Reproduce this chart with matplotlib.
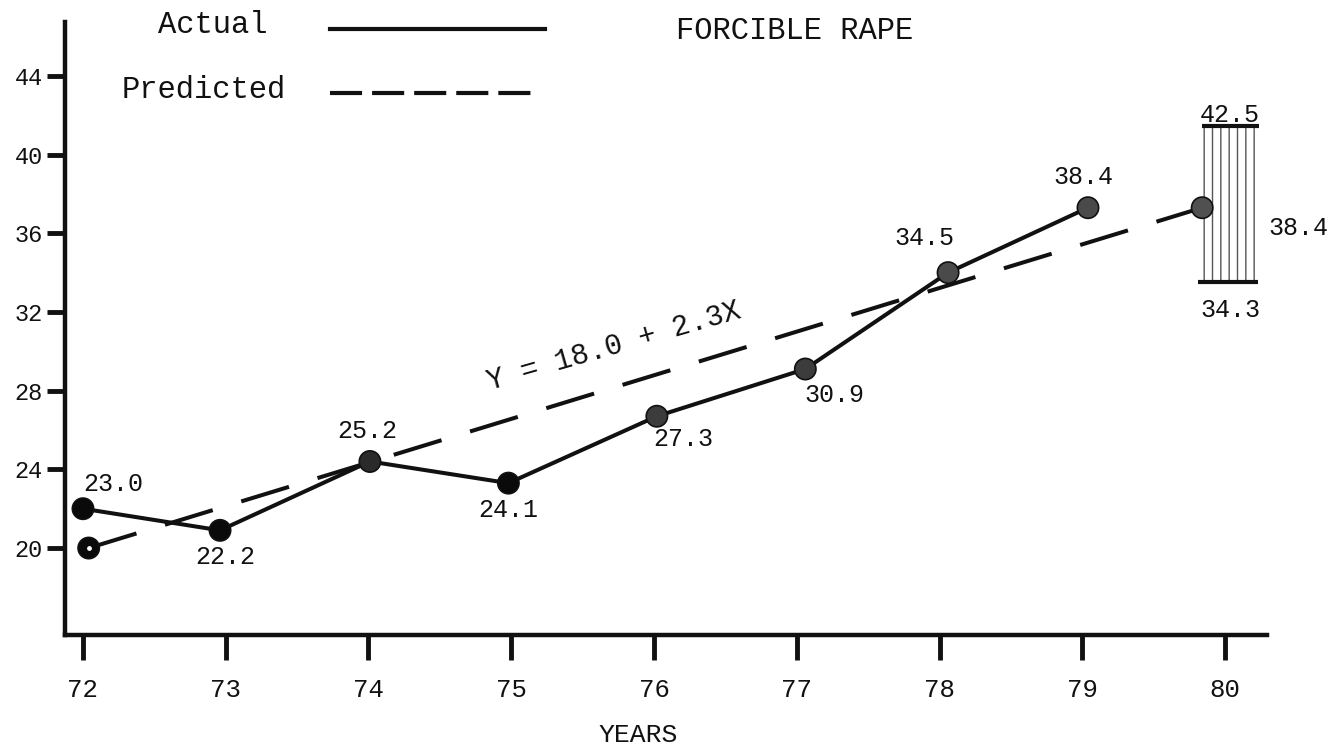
import matplotlib
matplotlib.use('Agg')
import matplotlib.pyplot as plt
from matplotlib.lines import Line2D
from matplotlib.patches import Rectangle

plt.rcParams['font.family'] = ['Liberation Mono', 'DejaVu Sans Mono']
plt.rcParams['hatch.linewidth'] = 1.0

# axis ticks
tick_years = [72, 73, 74, 75, 76, 77, 78, 79, 80]
y_ticks = [20, 24, 28, 32, 36, 40, 44]

# actual points where they sit on the chart, and the values printed next to them
actual_x = [72.0, 72.96, 74.01, 74.98, 76.02, 77.06, 78.06, 79.04]
actual_y = [22.0, 20.9, 24.4, 23.3, 26.7, 29.1, 34.0, 37.3]
actual_labels = ['23.0', '22.2', '25.2', '24.1', '27.3', '30.9', '34.5', '38.4']

# trend line Y = 18.0 + 2.3X (end points as drawn)
pred_x = [72.04, 79.84]
pred_y = [20.0, 37.3]
pred_label = '38.4'
equation = 'Y = 18.0 + 2.3X'

# 1980 prediction band
band_x = [79.84, 80.23]
band_low = 33.5
band_high = 41.45
band_low_label = '34.3'
band_high_label = '42.5'

W, H = 1343, 753
fig = plt.figure(figsize=(W / 100, H / 100), dpi=100)
ax = fig.add_axes([65 / W, 1 - 635 / H, (1267 - 65) / W, (635 - 22) / H])
ax.set_xlim(71.874, 80.294)
ax.set_ylim(15.58, 46.74)

ink = '#111111'
for s in ['top', 'right']:
    ax.spines[s].set_visible(False)
for s in ['left', 'bottom']:
    ax.spines[s].set_linewidth(3.2)
    ax.spines[s].set_color(ink)

ax.set_xticks(tick_years)
ax.set_xticklabels([str(t) for t in tick_years])
ax.set_yticks(y_ticks)
ax.set_yticklabels([str(t) for t in y_ticks])
ax.tick_params(axis='y', direction='out', length=13, width=3.5, pad=3,
               labelsize=17, colors=ink)
ax.tick_params(axis='x', direction='out', length=18, width=3.5, pad=13,
               labelsize=18.5, colors=ink)

# actual series
ax.plot(actual_x, actual_y, color=ink, lw=2.9, zorder=3)
faces = ['#0a0a0a', '#0a0a0a', '#2a2a2a', '#0a0a0a',
         '#3c3c3c', '#3c3c3c', '#4a4a4a', '#4a4a4a']
ax.scatter(actual_x, actual_y, s=235, facecolors=faces, edgecolors=ink,
           linewidths=1.2, zorder=4)

# predicted series
ax.plot(pred_x, pred_y, color=ink, lw=2.9, dashes=(12.4, 7.4), zorder=2)
ax.scatter(pred_x, pred_y, s=235, facecolors=['#0a0a0a', '#505050'],
           edgecolors=ink, linewidths=1.2, zorder=4)
ax.scatter(pred_x[:1], pred_y[:1], s=6, color='white', zorder=5)

# interval band at 80
ax.add_patch(Rectangle((band_x[0], band_low), band_x[1] - band_x[0],
                       band_high - band_low, facecolor='none',
                       edgecolor='#555555', hatch='||', lw=0, zorder=1))
ax.hlines([band_high], band_x[0], band_x[1] + 0.01, color=ink, lw=3, zorder=3)
ax.hlines([band_low], band_x[0] - 0.03, band_x[1], color=ink, lw=3, zorder=3)

# value labels (pixel offsets from each point)
offsets = [(30, 25), (5, -27), (-3, 30), (0, -27),
           (26, -23), (29, -26), (-24, 35), (-5, 31)]
for x, y, lab, (dx, dy) in zip(actual_x, actual_y, actual_labels, offsets):
    ax.annotate(lab, (x, y), xytext=(dx * 0.72, dy * 0.72),
                textcoords='offset points', ha='center', va='center',
                fontsize=18, color=ink)

mid = (band_x[0] + band_x[1]) / 2
ax.annotate(band_high_label, (mid, band_high), xytext=(0, 11 * 0.72),
            textcoords='offset points', ha='center', va='center',
            fontsize=18, color=ink)
ax.annotate(band_low_label, (mid, band_low), xytext=(0, -28 * 0.72),
            textcoords='offset points', ha='center', va='center',
            fontsize=18, color=ink)
ax.annotate(pred_label, (pred_x[1], pred_y[1]), xytext=(96 * 0.72, -20 * 0.72),
            textcoords='offset points', ha='center', va='center',
            fontsize=18, color=ink)

ax.text(75.72, 30.25, equation, rotation=16, rotation_mode='anchor',
        ha='center', va='center', fontsize=21, color=ink)

# legend and titles drawn by hand, like the original
fig.text(158 / W, 1 - 25 / H, 'Actual', ha='left', va='center',
         fontsize=22, color=ink)
fig.add_artist(Line2D([330 / W, 545 / W], [1 - 29 / H] * 2, color=ink,
                      lw=3, transform=fig.transFigure))
fig.text(122 / W, 1 - 90 / H, 'Predicted', ha='left', va='center',
         fontsize=22, color=ink)
fig.add_artist(Line2D([330 / W, 537 / W], [1 - 93 / H] * 2, color=ink,
                      lw=3, dashes=(7.7, 2.4), transform=fig.transFigure))
fig.text(795 / W, 1 - 31 / H, 'FORCIBLE RAPE', ha='center', va='center',
         fontsize=22, color=ink)
fig.text(638 / W, 1 - 735 / H, 'YEARS', ha='center', va='center',
         fontsize=19, color=ink)

fig.savefig('out.png', dpi=100)
